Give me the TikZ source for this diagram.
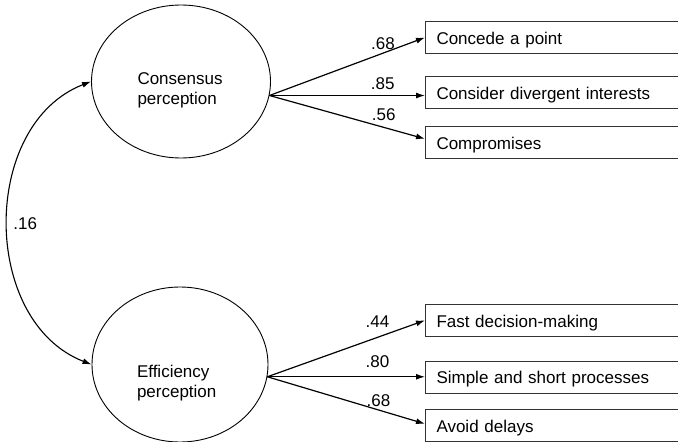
\documentclass[tikz,border=0pt]{standalone}
\usepackage{fontspec}
\setmainfont{Liberation Sans}
\usetikzlibrary{arrows.meta,shapes.geometric,calc}
\begin{document}
\begin{tikzpicture}[x=1pt,y=-1pt,
  every node/.style={font=\fontsize{17}{19.5}\selectfont},
  latent/.style={draw, ellipse, line width=0.9pt, inner sep=0pt},
  item/.style={draw=black!80, line width=1pt, rectangle, anchor=west,
    minimum height=32pt, text width=280pt, inner xsep=11pt, inner ysep=0pt,
    align=left, text height=13.5pt, text depth=0pt},
  arr/.style={line width=1.2pt, -{Latex[length=9pt,width=6pt]}},
  corr/.style={line width=1.1pt, {Latex[length=9pt,width=6pt]}-{Latex[length=9pt,width=6pt]}},
  coef/.style={inner sep=0pt}]
\useasboundingbox (0,0) rectangle (678,442);
\clip (0,0) rectangle (678,442);

% latent variables
\node[latent, minimum width=179pt, minimum height=153pt] (cons) at (181,81.5)
  {\makebox[0pt][l]{\hspace*{-43.5pt}\raisebox{-13.5pt}[0pt][0pt]{\begin{tabular}{@{}l@{}}Consensus\\perception\end{tabular}}}};
\node[latent, minimum width=176pt, minimum height=155pt] (eff) at (180,364.5)
  {\makebox[0pt][l]{\hspace*{-43pt}\raisebox{-23.6pt}[0pt][0pt]{\begin{tabular}{@{}l@{}}Efficiency\\perception\end{tabular}}}};

% indicators
\node[item] (b1) at (425,37.5) {Concede a point};
\node[item] (b2) at (425,92.85) {Consider divergent interests};
\node[item] (b3) at (425,142.85) {Compromises};
\node[item] (b4) at (425,320.35) {Fast decision-making};
\node[item] (b5) at (425,377) {Simple and short processes};
\node[item] (b6) at (425,425.85) {Avoid delays};

% loadings
\coordinate (cs) at (cons.-9);
\coordinate (es) at (eff.-8);
\draw[arr] (cs) -- (b1.west);
\draw[arr] (cs) -- (cs -| b2.west);
\draw[arr] (cs) -- ([yshift=4pt]b3.west);
\draw[arr] (es) -- (b4.west);
\draw[arr] (es) -- (es -| b5.west);
\draw[arr] (es) -- ([yshift=2pt]b6.west);

\node[coef] (l1) at (383,43.3) {.68};
\node[coef] (l2) at (382.7,83.3) {.85};
\node[coef] (l3) at (383.8,114.5) {.56};
\node[coef] (l4) at (377.5,321.5) {.44};
\node[coef] (l5) at (377.5,362) {.80};
\node[coef] (l6) at (378.5,401) {.68};

% correlation
\draw[corr] (cons.west) .. controls +(-111,43) and +(-111,-43) .. (eff.west);
\node[coef] (l0) at (25.3,223.3) {.16};
\end{tikzpicture}
\end{document}
